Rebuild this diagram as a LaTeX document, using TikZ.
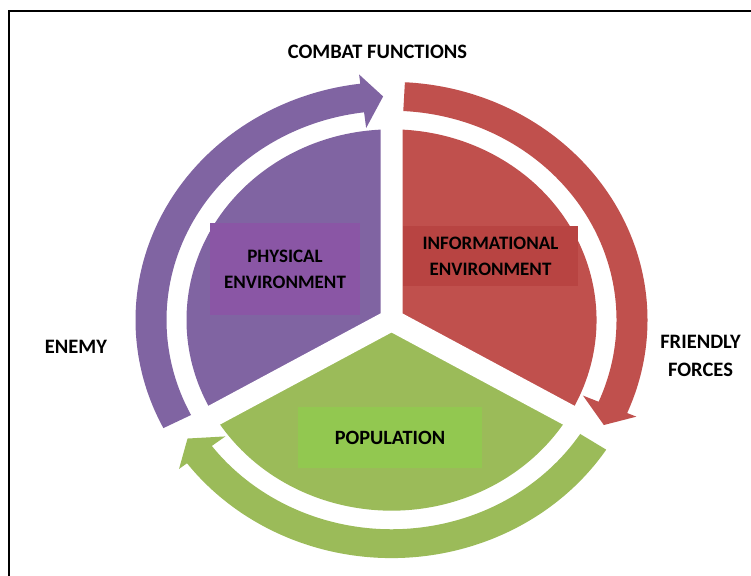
\documentclass[tikz,border=0pt]{standalone}
\usepackage{fontspec}
\setmainfont{Carlito}
\definecolor{cpurple}{HTML}{8064A2}
\definecolor{cred}{HTML}{C0504D}
\definecolor{cgreen}{HTML}{9BBB59}
\definecolor{physfill}{HTML}{8A56A5}
\definecolor{infofill}{HTML}{B84442}
\definecolor{popfill}{HTML}{92C850}
% one curved arrow of the outer ring: #1 colour, #2 angle of its tail
\newcommand{\ringarrow}[2]{%
  \fill[#1] (#2:256) arc[start angle=#2, end angle={#2-110}, radius=256]
    -- ({#2-110}:266) -- ({#2-115}:240.5) -- ({#2-110}:208) -- ({#2-110}:225)
    arc[start angle={#2-110}, end angle=#2, radius=225] -- cycle;}
\begin{document}
\begin{tikzpicture}[x=1pt,y=-1pt,
  lbl/.style={font=\bfseries\fontsize{20.5}{28}\selectfont, text=black, inner sep=0pt, align=center},
  boxlbl/.style={lbl, font=\bfseries\fontsize{19}{26}\selectfont},
  tagbox/.style={boxlbl, fill=#1}]
\useasboundingbox (0,0) rectangle (751,575);
\fill[white] (0,0) rectangle (751,575);
\begin{scope}
  \clip (0,0) rectangle (751,575);
  \draw[line width=1.8pt] (9,11) rectangle (780,600);
\end{scope}

% pie of three environments and the ring of arrows round it
\begin{scope}[shift={(391.5,320)}, x=1pt, y=0.93pt]
  \fill[cpurple] (0,0) -- (90:205) arc[start angle=90, end angle=210, radius=205] -- cycle;
  \fill[cred] (0,0) -- (-30:205) arc[start angle=-30, end angle=90, radius=205] -- cycle;
  \fill[cgreen] (0,0) -- (210:205) arc[start angle=210, end angle=330, radius=205] -- cycle;
  \draw[white, line width=22pt] (0,0) -- (90:213) (0,0) -- (210:213) (0,0) -- (330:213);
  \ringarrow{cpurple}{207}
  \ringarrow{cred}{87}
  \ringarrow{cgreen}{-33}
\end{scope}

% labels inside the pie
\node[tagbox=physfill, minimum width=150pt, minimum height=92pt] (phys) at (285,269) {PHYSICAL\\ENVIRONMENT};
\node[tagbox=infofill, minimum width=175pt, minimum height=60pt] (info) at (490.5,256) {INFORMATIONAL\\ENVIRONMENT};
\node[tagbox=popfill, minimum width=184pt, minimum height=61pt, font=\bfseries\fontsize{20.3}{26}\selectfont] (pop) at (390,437.5) {POPULATION};

% labels round the ring
\node[lbl] (combat) at (377.5,52) {COMBAT FUNCTIONS};
\node[lbl] (enemy) at (76,347) {ENEMY};
\node[lbl] (friendly) at (700.5,356) {FRIENDLY\\FORCES};
\end{tikzpicture}
\end{document}
